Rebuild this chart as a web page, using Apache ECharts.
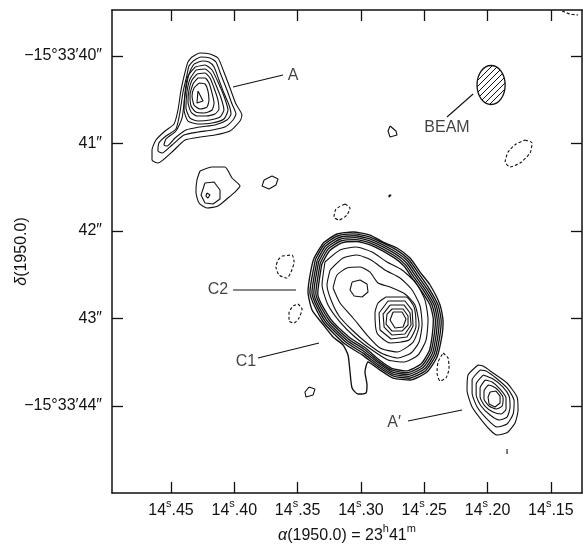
<!DOCTYPE html>
<html><head><meta charset="utf-8">
<script src="https://cdn.jsdelivr.net/npm/echarts@6/dist/echarts.min.js"></script>
<style>html,body{margin:0;padding:0;background:#fff}#c{width:583px;height:544px}</style>
</head><body><div id="c"></div>
<script>
// ---- axes (RA seconds of 23h41m, Dec arcsec of -15°33') ----
const raRange = [14.1254, 14.4966];
const decRange = [39.474, 44.994];
const raTicks = [14.45, 14.40, 14.35, 14.30, 14.25, 14.20, 14.15];
const decTicks = [40, 41, 42, 43, 44];
const decTickLabels = ['−15°33′40″', '41″', '42″', '43″', '−15°33′44″'];

// ---- component A (solid contours, outer to inner) ----
const A1 = [[14.4334,40.011],[14.4271,39.966],[14.4192,39.977],[14.4129,40.023],[14.4082,40.183],[14.4034,40.366],[14.3987,40.549],[14.3940,40.674],[14.3955,40.743],[14.4034,40.857],[14.4153,40.903],[14.4271,40.926],[14.4389,40.960],[14.4492,41.097],[14.4603,41.223],[14.4650,41.189],[14.4650,41.074],[14.4619,40.960],[14.4547,40.857],[14.4476,40.777],[14.4445,40.617],[14.4421,40.389],[14.4389,40.183],[14.4366,40.069]];
const A2 = [[14.4326,40.057],[14.4263,40.011],[14.4192,40.023],[14.4145,40.069],[14.4105,40.217],[14.4058,40.389],[14.4018,40.549],[14.3987,40.663],[14.4010,40.731],[14.4074,40.811],[14.4176,40.846],[14.4287,40.869],[14.4397,40.903],[14.4492,41.017],[14.4571,41.109],[14.4603,41.086],[14.4595,40.994],[14.4540,40.914],[14.4461,40.834],[14.4429,40.640],[14.4405,40.411],[14.4374,40.217],[14.4358,40.114]];
const A3 = [[14.4318,40.091],[14.4255,40.057],[14.4200,40.069],[14.4160,40.126],[14.4121,40.274],[14.4082,40.423],[14.4042,40.560],[14.4026,40.663],[14.4058,40.731],[14.4153,40.789],[14.4271,40.811],[14.4382,40.846],[14.4468,40.937],[14.4532,41.029],[14.4555,41.017],[14.4540,40.949],[14.4461,40.857],[14.4413,40.709],[14.4389,40.446],[14.4366,40.251],[14.4342,40.149]];
const A4 = [[14.4310,40.126],[14.4232,40.103],[14.4176,40.160],[14.4129,40.297],[14.4082,40.457],[14.4050,40.617],[14.4082,40.720],[14.4176,40.766],[14.4287,40.777],[14.4366,40.743],[14.4397,40.617],[14.4389,40.411],[14.4366,40.229]];
const A5 = [[14.4303,40.160],[14.4232,40.149],[14.4184,40.206],[14.4145,40.331],[14.4105,40.480],[14.4082,40.617],[14.4113,40.697],[14.4192,40.731],[14.4287,40.743],[14.4350,40.709],[14.4382,40.594],[14.4374,40.411],[14.4350,40.263]];
const A6 = [[14.4295,40.206],[14.4232,40.194],[14.4192,40.251],[14.4160,40.366],[14.4129,40.503],[14.4121,40.606],[14.4153,40.663],[14.4224,40.686],[14.4295,40.686],[14.4342,40.640],[14.4366,40.526],[14.4358,40.389],[14.4334,40.274]];
const A7 = [[14.4287,40.251],[14.4232,40.251],[14.4200,40.309],[14.4176,40.423],[14.4160,40.537],[14.4176,40.617],[14.4239,40.651],[14.4303,40.640],[14.4342,40.571],[14.4350,40.446],[14.4326,40.320]];
const A8 = [[14.4279,40.309],[14.4232,40.320],[14.4208,40.400],[14.4200,40.503],[14.4216,40.583],[14.4271,40.606],[14.4318,40.560],[14.4334,40.457],[14.4318,40.366]];
const A9 = [[14.4287,40.400],[14.4247,40.514],[14.4295,40.537]];

// ---- small blobs ----
const B1 = [[14.4271,41.314],[14.4176,41.269],[14.4074,41.269],[14.4018,41.394],[14.3955,41.486],[14.3987,41.543],[14.4050,41.623],[14.4129,41.714],[14.4216,41.737],[14.4279,41.680],[14.4303,41.554],[14.4295,41.417]];
const B2 = [[14.4232,41.451],[14.4160,41.440],[14.4113,41.531],[14.4113,41.634],[14.4168,41.691],[14.4232,41.680],[14.4263,41.589]];
const B3 = [[14.4216,41.566],[14.4192,41.589],[14.4208,41.623],[14.4224,41.600]];
const S2 = [[14.3765,41.417],[14.3702,41.371],[14.3655,41.406],[14.3671,41.474],[14.3726,41.520],[14.3781,41.486]];
const S3 = [[14.2770,40.800],[14.2723,40.857],[14.2715,40.903],[14.2770,40.926],[14.2786,40.857]];
const S4 = [[14.2778,41.589],[14.2762,41.589],[14.2762,41.611],[14.2778,41.611]];
const S5 = [[14.1846,44.491],[14.1846,44.549]];
const S6 = [[14.3410,43.783],[14.3363,43.806],[14.3378,43.874],[14.3434,43.897],[14.3442,43.840]];

// ---- negative (dashed) contours ----
const D1 = [[14.3623,42.286],[14.3544,42.274],[14.3528,42.354],[14.3552,42.469],[14.3584,42.537],[14.3647,42.503],[14.3671,42.411],[14.3655,42.331]];
const D2 = [[14.3497,42.834],[14.3465,42.891],[14.3489,42.994],[14.3528,43.051],[14.3568,43.029],[14.3568,42.937],[14.3536,42.857]];
const D3 = [[14.3126,41.691],[14.3086,41.737],[14.3110,41.817],[14.3173,41.874],[14.3213,41.840],[14.3197,41.749]];
const D4 = [[14.1704,40.960],[14.1648,40.994],[14.1664,41.109],[14.1743,41.223],[14.1822,41.269],[14.1861,41.211],[14.1838,41.097],[14.1775,41.006]];
const D5 = [[14.2351,43.394],[14.2312,43.451],[14.2304,43.566],[14.2328,43.680],[14.2375,43.714],[14.2399,43.623],[14.2391,43.497]];
const D6 = [[14.1411,39.486],[14.1348,39.520],[14.1285,39.531]];

// ---- component C (outer with tail, dense rim, inner) ----
const C0 = [[14.3299,42.137],[14.3189,42.034],[14.3062,42.011],[14.2928,42.046],[14.2825,42.126],[14.2715,42.194],[14.2612,42.309],[14.2533,42.469],[14.2454,42.617],[14.2375,42.846],[14.2351,43.040],[14.2359,43.189],[14.2399,43.440],[14.2478,43.611],[14.2612,43.703],[14.2746,43.680],[14.2849,43.589],[14.2944,43.497],[14.2968,43.611],[14.2952,43.760],[14.2960,43.851],[14.3023,43.863],[14.3070,43.794],[14.3086,43.611],[14.3102,43.417],[14.3141,43.303],[14.3220,43.211],[14.3315,43.040],[14.3386,42.903],[14.3418,42.697],[14.3402,42.503],[14.3370,42.309]];
const R2 = [[14.3359,42.323],[14.3289,42.155],[14.3181,42.054],[14.3057,42.033],[14.2927,42.069],[14.2720,42.215],[14.2621,42.328],[14.2545,42.483],[14.2461,42.658],[14.2391,42.846],[14.2366,43.035],[14.2381,43.235],[14.2411,43.425],[14.2488,43.593],[14.2619,43.682],[14.2742,43.658],[14.2850,43.566],[14.2987,43.418],[14.3131,43.286],[14.3300,43.034],[14.3403,42.702]];
const R4 = [[14.3346,42.337],[14.3279,42.172],[14.3174,42.074],[14.3053,42.054],[14.2925,42.092],[14.2726,42.237],[14.2630,42.346],[14.2558,42.497],[14.2476,42.665],[14.2407,42.846],[14.2382,43.029],[14.2395,43.225],[14.2423,43.411],[14.2497,43.575],[14.2625,43.661],[14.2746,43.636],[14.2851,43.543],[14.2983,43.396],[14.3120,43.268],[14.3285,43.027],[14.3387,42.706]];
const R6 = [[14.3334,42.351],[14.3269,42.190],[14.3166,42.094],[14.3048,42.076],[14.2924,42.115],[14.2731,42.258],[14.2639,42.365],[14.2570,42.511],[14.2491,42.672],[14.2422,42.846],[14.2397,43.024],[14.2409,43.214],[14.2435,43.396],[14.2507,43.557],[14.2632,43.641],[14.2749,43.613],[14.2852,43.520],[14.2979,43.374],[14.3110,43.251],[14.3270,43.021],[14.3372,42.711]];
const R8 = [[14.3321,42.365],[14.3259,42.207],[14.3159,42.114],[14.3043,42.098],[14.2923,42.137],[14.2737,42.280],[14.2649,42.384],[14.2583,42.525],[14.2506,42.679],[14.2438,42.846],[14.2412,43.019],[14.2423,43.204],[14.2448,43.382],[14.2517,43.539],[14.2639,43.620],[14.2753,43.591],[14.2853,43.498],[14.2975,43.351],[14.3100,43.233],[14.3254,43.014],[14.3356,42.715]];
const R10 = [[14.3309,42.379],[14.3248,42.225],[14.3151,42.135],[14.3038,42.120],[14.2922,42.160],[14.2742,42.301],[14.2658,42.403],[14.2595,42.539],[14.2521,42.686],[14.2454,42.846],[14.2428,43.014],[14.2437,43.193],[14.2460,43.367],[14.2526,43.521],[14.2645,43.599],[14.2757,43.569],[14.2854,43.475],[14.2971,43.329],[14.3090,43.216],[14.3239,43.008],[14.3341,42.720]];
const I1 = [[14.3284,42.354],[14.3165,42.217],[14.3039,42.183],[14.2912,42.240],[14.2794,42.354],[14.2675,42.446],[14.2565,42.594],[14.2494,42.789],[14.2470,43.017],[14.2486,43.246],[14.2549,43.417],[14.2659,43.497],[14.2786,43.474],[14.2912,43.360],[14.3047,43.211],[14.3165,43.040],[14.3260,42.846],[14.3307,42.617]];
const I2 = [[14.3244,42.446],[14.3141,42.309],[14.3031,42.274],[14.2920,42.331],[14.2810,42.446],[14.2691,42.537],[14.2596,42.674],[14.2533,42.857],[14.2517,43.063],[14.2541,43.269],[14.2604,43.394],[14.2707,43.451],[14.2825,43.406],[14.2944,43.291],[14.3070,43.131],[14.3173,42.971],[14.3236,42.789],[14.3268,42.617]];
const PN = [[14.3220,42.651],[14.3189,42.503],[14.3110,42.423],[14.3007,42.411],[14.2928,42.469],[14.2865,42.594],[14.2770,42.640],[14.2652,42.720],[14.2573,42.846],[14.2541,43.074],[14.2588,43.269],[14.2715,43.383],[14.2849,43.337],[14.2952,43.189],[14.3062,42.994],[14.3165,42.823]];
const C2peak = [[14.3070,42.583],[14.3007,42.560],[14.2952,42.606],[14.2944,42.697],[14.2991,42.754],[14.3054,42.743],[14.3086,42.674]];
const K5 = [[14.2802,42.754],[14.2644,42.754],[14.2580,42.869],[14.2565,43.086],[14.2620,43.246],[14.2770,43.280],[14.2873,43.166],[14.2889,42.937],[14.2865,42.823]];
const K4 = [[14.2786,42.800],[14.2652,42.800],[14.2596,42.903],[14.2588,43.086],[14.2636,43.211],[14.2762,43.234],[14.2849,43.131],[14.2857,42.937]];
const K3 = [[14.2770,42.846],[14.2659,42.846],[14.2612,42.937],[14.2604,43.074],[14.2652,43.177],[14.2754,43.189],[14.2817,43.097],[14.2825,42.949]];
const K2 = [[14.2754,42.891],[14.2667,42.891],[14.2628,42.971],[14.2628,43.074],[14.2675,43.143],[14.2754,43.143],[14.2802,43.063],[14.2794,42.949]];
const K1 = [[14.2746,42.926],[14.2675,42.926],[14.2644,43.006],[14.2667,43.097],[14.2731,43.109],[14.2770,43.017]];

// ---- component A' ----
const Q1 = [[14.2075,43.531],[14.2154,43.646],[14.2162,43.817],[14.2122,44.011],[14.2035,44.183],[14.1964,44.297],[14.1925,44.331],[14.1878,44.320],[14.1838,44.297],[14.1783,44.194],[14.1759,44.046],[14.1767,43.897],[14.1846,43.737],[14.1956,43.623],[14.2035,43.543]];
const Q2 = [[14.2059,43.589],[14.2122,43.703],[14.2122,43.851],[14.2082,44.011],[14.2004,44.149],[14.1925,44.240],[14.1846,44.206],[14.1798,44.091],[14.1790,43.943],[14.1838,43.806],[14.1933,43.680],[14.2012,43.600]];
const Q3 = [[14.2035,43.646],[14.2090,43.749],[14.2090,43.874],[14.2051,44.000],[14.1980,44.103],[14.1909,44.160],[14.1846,44.126],[14.1822,44.011],[14.1830,43.886],[14.1878,43.783],[14.1956,43.691]];
const Q4 = [[14.2020,43.703],[14.2059,43.794],[14.2059,43.897],[14.2020,44.000],[14.1956,44.069],[14.1893,44.091],[14.1854,44.034],[14.1854,43.909],[14.1901,43.806],[14.1964,43.726]];
const Q5 = [[14.1996,43.760],[14.2028,43.829],[14.2028,43.920],[14.1988,44.000],[14.1933,44.034],[14.1885,44.000],[14.1877,43.909],[14.1917,43.817],[14.1964,43.771]];
const Q6 = [[14.1980,43.840],[14.1933,43.829],[14.1901,43.886],[14.1901,43.966],[14.1941,44.011],[14.1988,43.977],[14.1996,43.897]];

// ---- beam (centre RA, centre Dec, half-size RA s, half-size Dec ") ----
const beam = [14.1972, 40.331, 0.0111, 0.223];

// ---- annotations ----
const labelNames = ['A', 'BEAM', 'C2', 'C1', 'A′'];
const labelRA = [14.3536, 14.2320, 14.4129, 14.3908, 14.2738];
const labelDec = [40.229, 40.823, 42.674, 43.497, 44.194];
const pointerA = [[14.4010,40.354],[14.3615,40.217]];
const pointerBeam = [[14.2320,40.697],[14.2114,40.434]];
const pointerC2 = [[14.4010,42.674],[14.3513,42.674]];
const pointerC1 = [[14.3813,43.451],[14.3331,43.280]];
const pointerA2 = [[14.2628,44.171],[14.2201,44.046]];

const rimSolid = [C0,R2,R4,R6,R8,R10];
const closedSolid = [A1,A2,A3,A4,A5,A6,A7,A8,A9,B1,B2,B3,S2,S3,S4,S6,
  I1,I2,PN,C2peak,K5,K4,K3,K2,K1,Q1,Q2,Q3,Q4,Q5,Q6];
const closedDashed = [D1,D2,D3,D4,D5];
const openSolid = [S5, pointerA, pointerBeam, pointerC2, pointerC1, pointerA2];
const openDashed = [D6];

const FONT = 'Liberation Sans, Arial, Helvetica, sans-serif';
const INK = '#111';

function lineSeries(pts, closed, dashed, smooth, width) {
  return {
    type: 'line', data: closed ? pts.concat([pts[0]]) : pts,
    showSymbol: false, symbol: 'none', smooth: smooth, silent: true,
    lineStyle: { color: INK, width: width, type: dashed ? [3, 2] : 'solid' },
    animation: false
  };
}

const series = [];
rimSolid.forEach(c => series.push(lineSeries(c, true, false, 0.2, 1.35)));
closedSolid.forEach(c => series.push(lineSeries(c, true, false, c.length > 8 ? 0.2 : 0, 1.1)));
closedDashed.forEach(c => series.push(lineSeries(c, true, true, 0.2, 1.1)));
openSolid.forEach(c => series.push(lineSeries(c, false, false, 0, 1.1)));
openDashed.forEach(c => series.push(lineSeries(c, false, true, 0.2, 1.1)));

// hatch pattern for the beam
const pc = document.createElement('canvas');
pc.width = 6; pc.height = 6;
const g = pc.getContext('2d');
g.strokeStyle = '#111'; g.lineWidth = 1;
g.beginPath(); g.moveTo(-1, 7); g.lineTo(7, -1); g.stroke();
const hatch = { image: pc, repeat: 'repeat' };

series.push({
  type: 'custom', silent: true, animation: false,
  data: [beam],
  renderItem: function (params, api) {
    const c = api.coord([api.value(0), api.value(1)]);
    const s = api.size([api.value(2), api.value(3)]);
    return { type: 'ellipse', shape: { cx: c[0], cy: c[1], rx: s[0], ry: s[1] },
      style: { fill: hatch, stroke: INK, lineWidth: 1.3 } };
  }
});

series.push({
  type: 'scatter', symbolSize: 1, silent: true, animation: false,
  itemStyle: { color: 'rgba(0,0,0,0)' },
  data: labelNames.map((n, i) => ({ name: n, value: [labelRA[i], labelDec[i]] })),
  label: { show: true, position: 'inside', formatter: p => p.name,
    color: '#111', fontSize: 16, fontFamily: FONT }
});

const superRich = {
  n: { fontSize: 16, fontFamily: FONT, color: '#111', lineHeight: 18 },
  s: { fontSize: 11, fontFamily: FONT, color: '#111', lineHeight: 12, padding: [0, 0, 14, 0] },
  i: { fontSize: 16, fontFamily: FONT, color: '#111', fontStyle: 'italic', lineHeight: 18 }
};
const plainRich = {
  n: { fontSize: 16, fontFamily: FONT, color: '#111', lineHeight: 18 },
  i: { fontSize: 16, fontFamily: FONT, color: '#111', fontStyle: 'italic', lineHeight: 18 }
};

const axisLineStyle = { show: true, lineStyle: { color: INK, width: 1.5 } };
const tickStyle = { lineStyle: { color: INK, width: 1.3 } };

const option = {
  animation: false,
  backgroundColor: '#fff',
  grid: { left: 112, right: 1, top: 10, bottom: 51, containLabel: false, outerBoundsMode: 'none' },
  xAxis: [{
    type: 'value', min: raRange[0], max: raRange[1], inverse: true, position: 'bottom',
    splitLine: { show: false }, axisLine: axisLineStyle,
    axisTick: Object.assign({ show: true, inside: true, length: 11, customValues: raTicks }, tickStyle),
    axisLabel: { show: true, customValues: raTicks, margin: 9, rich: superRich,
      formatter: v => { const s = v.toFixed(2).split('.'); return '{n|' + s[0] + '}{s|s}{n|.' + s[1] + '}'; } },
    name: '{i|α}{n|(1950.0) = 23}{s|h}{n|41}{s|m}', nameLocation: 'middle', nameGap: 34,
    nameMoveOverlap: false,
    nameTextStyle: { rich: superRich }
  }, {
    type: 'value', min: raRange[0], max: raRange[1], inverse: true, position: 'top',
    splitLine: { show: false }, axisLine: axisLineStyle,
    axisTick: Object.assign({ show: true, inside: true, length: 11, customValues: raTicks }, tickStyle),
    axisLabel: { show: false }
  }],
  yAxis: [{
    type: 'value', min: decRange[0], max: decRange[1], inverse: true, position: 'left',
    splitLine: { show: false }, axisLine: axisLineStyle,
    axisTick: Object.assign({ show: true, inside: true, length: 11, customValues: decTicks }, tickStyle),
    axisLabel: { show: true, customValues: decTicks, margin: 10, color: '#111', fontSize: 16, fontFamily: FONT,
      formatter: v => decTickLabels[decTicks.indexOf(Math.round(v))] },
    name: '{i|δ}{n|(1950.0)}', nameLocation: 'middle', nameRotate: 90, nameGap: 81,
    nameMoveOverlap: false,
    nameTextStyle: { rich: plainRich }
  }, {
    type: 'value', min: decRange[0], max: decRange[1], inverse: true, position: 'right',
    splitLine: { show: false }, axisLine: axisLineStyle,
    axisTick: Object.assign({ show: true, inside: true, length: 11, customValues: decTicks }, tickStyle),
    axisLabel: { show: false }
  }],
  series: series
};

const chart = echarts.init(document.getElementById('c'), null, { renderer: 'canvas' });
chart.setOption(option);
</script>
</body></html>
